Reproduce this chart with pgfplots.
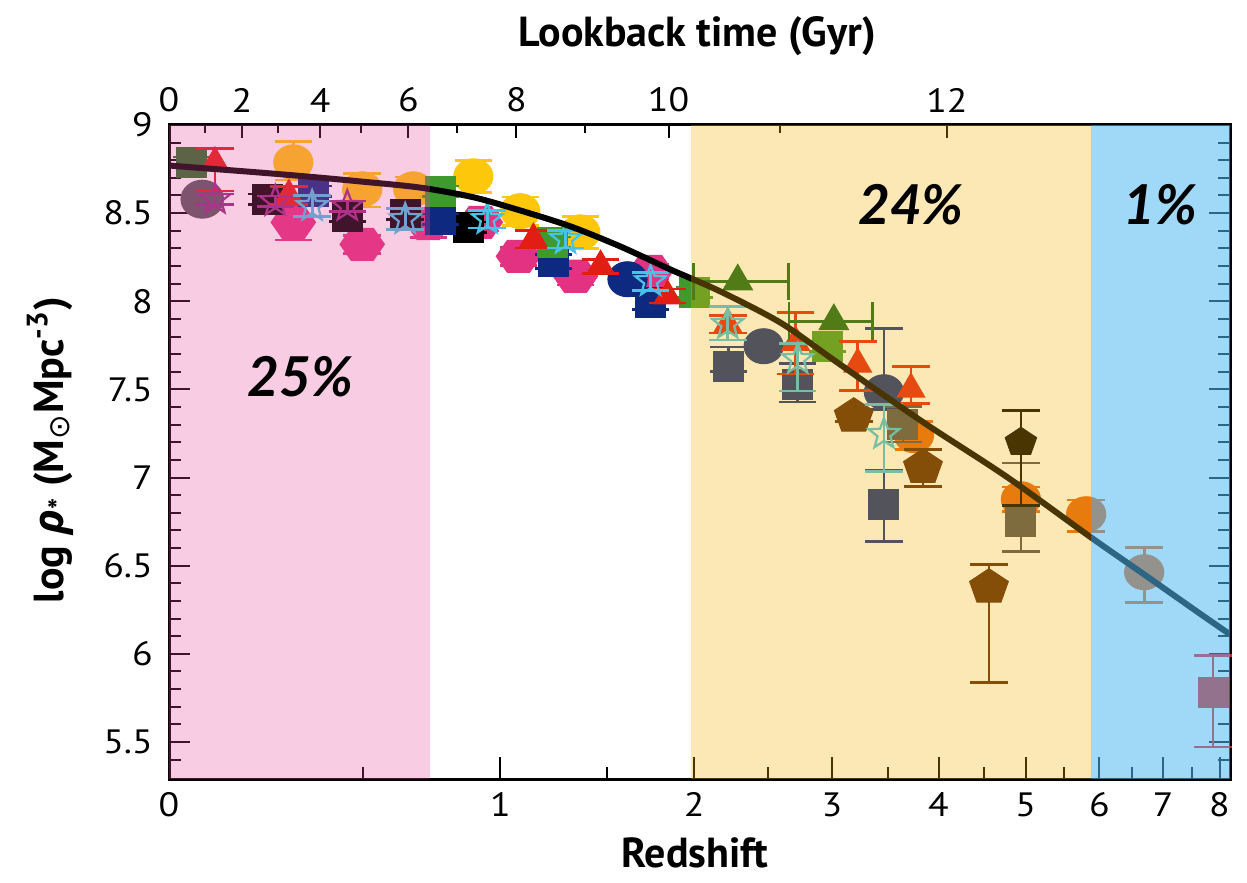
\documentclass[border=0pt]{standalone}
\usepackage{pgfplots}
\pgfplotsset{compat=1.18}
\usetikzlibrary{plotmarks}
\usepackage{fontspec}
\setmainfont{PT Sans}
\newfontfamily\tickfont{PT Sans}[FakeStretch=1.12]
\newfontfamily\pctfont{Lato}
\newfontfamily\grkfont{Open Sans}
\newfontfamily\symfont{DejaVu Sans}

\definecolor{ovPink}{RGB}{230,73,151}
\definecolor{ovYel}{RGB}{242,178,8}
\definecolor{ovBlue}{RGB}{82,184,242}
\definecolor{cRed}{RGB}{226,30,20}
\definecolor{cYellow}{RGB}{253,199,12}
\definecolor{cOrange}{RGB}{227,100,17}
\definecolor{cPink}{RGB}{228,50,130}
\definecolor{cNavy}{RGB}{14,42,128}
\definecolor{cCyan}{RGB}{70,195,230}
\definecolor{cMagenta}{RGB}{150,43,132}
\definecolor{cGreen}{RGB}{63,154,46}
\definecolor{cDkGreenSq}{RGB}{40,110,40}
\definecolor{cDkGreenTri}{RGB}{10,100,30}
\definecolor{cBrown}{RGB}{85,35,10}
\definecolor{cDkGrey}{RGB}{76,77,86}
\definecolor{cGreyC}{RGB}{87,87,93}

\pgfdeclareplotmark{hexagon*}{%
  \pgfpathmoveto{\pgfpointpolar{0}{\pgfplotmarksize}}%
  \pgfpathlineto{\pgfpointpolar{60}{\pgfplotmarksize}}%
  \pgfpathlineto{\pgfpointpolar{120}{\pgfplotmarksize}}%
  \pgfpathlineto{\pgfpointpolar{180}{\pgfplotmarksize}}%
  \pgfpathlineto{\pgfpointpolar{240}{\pgfplotmarksize}}%
  \pgfpathlineto{\pgfpointpolar{300}{\pgfplotmarksize}}%
  \pgfpathclose
  \pgfusepathqfillstroke}
\pgfdeclareplotmark{ostar}{%
  \pgfpathmoveto{\pgfpointpolar{90}{\pgfplotmarksize}}%
  \pgfpathlineto{\pgfpointpolar{126}{0.42*\pgfplotmarksize}}%
  \pgfpathlineto{\pgfpointpolar{162}{\pgfplotmarksize}}%
  \pgfpathlineto{\pgfpointpolar{198}{0.42*\pgfplotmarksize}}%
  \pgfpathlineto{\pgfpointpolar{234}{\pgfplotmarksize}}%
  \pgfpathlineto{\pgfpointpolar{270}{0.42*\pgfplotmarksize}}%
  \pgfpathlineto{\pgfpointpolar{306}{\pgfplotmarksize}}%
  \pgfpathlineto{\pgfpointpolar{342}{0.42*\pgfplotmarksize}}%
  \pgfpathlineto{\pgfpointpolar{18}{\pgfplotmarksize}}%
  \pgfpathlineto{\pgfpointpolar{54}{0.42*\pgfplotmarksize}}%
  \pgfpathclose
  \pgfusepathqstroke}

\pgfplotsset{
  eb/.style={error bars/y dir=both, error bars/y explicit,
    error bars/error bar style={line width=1.1pt},
    error bars/error mark options={rotate=90, mark size=7.5pt, line width=1.1pt}},
  ebx/.style={error bars/x dir=both, error bars/x explicit,
    error bars/error bar style={line width=1.1pt},
    error bars/error mark options={rotate=90, mark size=7.5pt, line width=1.1pt}},
}

\begin{document}
\begin{tikzpicture}
% top axis: lookback time
\begin{axis}[
  scale only axis, width=424.4pt, height=261.6pt,
  xmode=log, xmin=1, xmax=9.2, ymin=0, ymax=1,
  axis x line*=top, axis y line=none,
  axis line style={line width=1.2pt,-},
  xtick={1,1.165,1.372,1.650,2.068,2.843,5.089},
  xticklabels={0,2,4,6,8,10,12},
  minor xtick={1.078,1.256,1.495,1.827,2.385,3.587},
  tick align=inside,
  major tick length=5.2pt, minor tick length=3.2pt,
  tick style={line width=0.8pt, black},
  x tick label style={font=\tickfont\fontsize{13.5}{14}\selectfont, yshift=1.5pt},
]
\addplot[draw=none] coordinates {(2,0.5)};
\end{axis}
% main axis
\begin{axis}[
  scale only axis, width=424.4pt, height=261.6pt,
  xmode=log, xmin=1, xmax=9.2, ymin=5.29, ymax=9,
  clip=false, clip marker paths=true,
  axis line style={line width=1.2pt},
  xtick={1,2,3,4,5,6,7,8,9}, xticklabels={0,1,2,3,4,5,6,7,8},
  minor xtick={1.5,2.5,3.5,4.5,5.5,6.5,7.5,8.5},
  ytick={5.5,6,6.5,7,7.5,8,8.5,9}, yticklabels={5.5,6,6.5,7,7.5,8,8.5,9},
  minor ytick={5.4,5.6,5.7,5.8,5.9,6.1,6.2,6.3,6.4,6.6,6.7,6.8,6.9,7.1,7.2,7.3,7.4,7.6,7.7,7.8,7.9,8.1,8.2,8.3,8.4,8.6,8.7,8.8,8.9},
  xtick pos=bottom, ytick pos=both,
  tick align=inside,
  major tick length=8.6pt, minor tick length=4.8pt,
  tick style={line width=0.8pt, black},
  x tick label style={font=\tickfont\fontsize{13.5}{14}\selectfont, yshift=-2pt},
  y tick label style={font=\tickfont\fontsize{13.5}{14}\selectfont, xshift=-3pt},
]
% grey circle z~0.07
\addplot[only marks, color=cGreyC, mark=*, mark size=7.6pt, mark options={xscale=1.12}] coordinates {(1.072,8.579)};
% dark green square
\addplot[only marks, color=cDkGreenSq, mark=square*, mark size=6pt, eb] coordinates {(1.049,8.788) +- (0,0.03)};
% yellow circles
\addplot[only marks, color=cYellow, mark=*, mark size=7pt, mark options={xscale=1.12}, eb] coordinates {
 (1.297,8.788) += (0,0.12) -= (0,0.10)
 (1.498,8.635) += (0,0.09) -= (0,0.10)
 (1.667,8.635) +- (0,0.07)
 (1.890,8.709) +- (0,0.09)
 (2.085,8.511) +- (0,0.08)
 (2.364,8.391) +- (0,0.09)
 (2.721,8.125) +- (0,0.05)
};
% pink hexagons
\addplot[only marks, color=cPink, mark=hexagon*, mark size=7.4pt, mark options={xscale=1.2}, eb] coordinates {
 (1.297,8.448) +- (0,0.10)
 (1.498,8.323) +- (0,0.05)
 (1.720,8.440) +- (0,0.08)
 (1.918,8.448) +- (0,0.05)
 (2.077,8.255) +- (0,0.05)
 (2.340,8.142) +- (0,0.05)
 (2.738,8.170) +- (0,0.04)
};
% orange circles
\addplot[only marks, color=cOrange, mark=*, mark size=7pt, mark options={xscale=1.12}, eb] coordinates {
 (4.750,7.240) +- (0,0.08)
 (5.941,6.877) +- (0,0.07)
 (6.810,6.792) += (0,0.08) -= (0,0.10)
 (7.689,6.463) += (0,0.14) -= (0,0.17)
};
% navy circles
\addplot[only marks, color=cNavy, mark=*, mark size=7pt, mark options={xscale=1.12}, eb] coordinates {
 (2.609,8.125) +- (0,0.03)
 (3.469,7.745) +- (0,0.03)
 (4.461,7.484) += (0,0.36) -= (0,0.10)
};
% black squares
\addplot[only marks, color=black, mark=square*, mark size=6pt, eb] coordinates {
 (1.228,8.579) +- (0,0.03)
 (1.452,8.482) +- (0,0.03)
 (1.639,8.494) +- (0,0.03)
 (1.870,8.420) +- (0,0.03)
};
% navy squares
\addplot[only marks, color=cNavy, mark=square*, mark size=6pt, eb] coordinates {
 (1.352,8.624) +- (0,0.03)
 (1.764,8.465) +- (0,0.03)
 (2.235,8.227) +- (0,0.04)
 (2.738,7.994) +- (0,0.04)
 (3.224,7.631) += (0,0.11) -= (0,0.03)
 (3.725,7.529) += (0,0.12) -= (0,0.10)
 (4.461,6.849) += (0,0.19) -= (0,0.21)
};
% green squares
\addplot[only marks, color=cGreen, mark=square*, mark size=6pt, eb] coordinates {
 (1.764,8.624) +- (0,0.03)
 (2.230,8.335) +- (0,0.03)
 (3.000,8.051) +- (0,0.03)
 (3.966,7.745) +- (0,0.03)
};
% dark grey squares
\addplot[only marks, color=cDkGrey, mark=square*, mark size=6pt, eb] coordinates {
 (4.642,7.302) +- (0,0.10)
 (5.941,6.752) += (0,0.33) -= (0,0.17)
};
% red square z~8
\addplot[only marks, color=cRed, mark=square*, mark size=6pt, eb] coordinates {
 (8.880,5.782) += (0,0.21) -= (0,0.31)
};
% brown pentagons
\addplot[only marks, color=cBrown, mark=pentagon*, mark size=7.4pt, mark options={xscale=1.1}, eb] coordinates {
 (4.188,7.348) +- (0,0.03)
 (4.840,7.058) += (0,0.10) -= (0,0.11)
 (5.557,6.378) += (0,0.13) -= (0,0.54)
};
% black pentagon
\addplot[only marks, color=black, mark=pentagon*, mark size=6pt, mark options={xscale=1.1}, eb] coordinates {
 (5.941,7.200) += (0,0.18) -= (0,0.36)
};
% red triangles
\addplot[only marks, color=cRed, mark=triangle*, mark size=6.4pt, eb] coordinates {
 (1.101,8.785) += (0,0.08) -= (0,0.16)
 (1.285,8.600) +- (0,0.05)
 (2.143,8.352) +- (0,0.05)
 (2.466,8.199) +- (0,0.04)
 (2.837,8.030) +- (0,0.04)
 (3.218,7.870) +- (0,0.05)
 (3.709,7.767) += (0,0.17) -= (0,0.18)
 (4.223,7.643) += (0,0.13) -= (0,0.15)
 (4.720,7.501) += (0,0.13) -= (0,0.08)
};
% dark green triangles with redshift bins
\addplot[only marks, color=cDkGreenTri, mark=triangle*, mark size=6.8pt, ebx] coordinates {
 (3.286,8.113) += (0.37,0) -= (0.29,0)
 (4.017,7.887) += (0.34,0) -= (0.36,0)
};
% magenta open stars
\addplot[only marks, color=cMagenta, mark=ostar, mark size=6.4pt, mark options={line width=0.9pt, fill=none}, eb] coordinates {
 (1.101,8.579) +- (0,0.03)
 (1.249,8.567) +- (0,0.03)
 (1.452,8.539) +- (0,0.03)
};
% cyan open stars
\addplot[only marks, color=cCyan, mark=ostar, mark size=6.4pt, mark options={line width=0.9pt, fill=none}, eb] coordinates {
 (1.349,8.539) +- (0,0.06)
 (1.639,8.465) +- (0,0.06)
 (1.946,8.465) +- (0,0.05)
 (2.292,8.352) +- (0,0.05)
 (2.738,8.113) +- (0,0.05)
 (3.218,7.870) += (0,0.10) -= (0,0.09)
 (3.725,7.671) += (0,0.09) -= (0,0.18)
 (4.461,7.246) += (0,0.17) -= (0,0.21)
};
% fitted curve
\addplot[black, line width=2.4pt, smooth, no marks] coordinates {
 (1.0,8.77) (1.1,8.75) (1.21,8.73) (1.35,8.705) (1.49,8.68) (1.69,8.645)
 (1.89,8.59) (2.085,8.515) (2.315,8.425) (2.572,8.31) (2.855,8.18) (3.17,8.055)
 (3.59,7.88) (3.99,7.68) (4.43,7.48) (4.92,7.285) (5.78,7.00) (6.88,6.66)
 (7.69,6.45) (8.54,6.25) (9.2,6.11)
};
% shaded epochs
\fill[ovPink, fill opacity=0.28] (axis cs:1,5.29) rectangle (axis cs:1.727,9);
\fill[ovYel, fill opacity=0.30] (axis cs:2.98,5.29) rectangle (axis cs:6.88,9);
\fill[ovBlue, fill opacity=0.55] (axis cs:6.88,5.29) rectangle (axis cs:9.2,9);
% labels
\node[font=\pctfont\bfseries\itshape\fontsize{22}{22}\selectfont] at (rel axis cs:0.1235,0.6147) {25\%};
\node[font=\pctfont\bfseries\itshape\fontsize{22}{22}\selectfont] at (rel axis cs:0.6993,0.8777) {24\%};
\node[font=\pctfont\bfseries\itshape\fontsize{22}{22}\selectfont] at (rel axis cs:0.934,0.8777) {1\%};
\node[anchor=base, font=\bfseries\fontsize{16.8}{17}\selectfont] at (rel axis cs:0.4977,1.1193) {Lookback time (Gyr)};
\node[anchor=base, font=\bfseries\fontsize{16.8}{17}\selectfont] at (rel axis cs:0.4958,-0.136) {Redshift};
\node[rotate=90, anchor=center, font=\bfseries\fontsize{16.8}{17}\selectfont] at (rel axis cs:-0.1122,0.503)
  {log {\grkfont\bfseries\itshape ρ}\textsubscript{*} (M\textsubscript{\symfont\mdseries ⊙}Mpc\textsuperscript{-3})};
\path (rel axis cs:-0.1593,-0.1575) rectangle (rel axis cs:1.016,1.1911);
\end{axis}
\end{tikzpicture}
\end{document}
